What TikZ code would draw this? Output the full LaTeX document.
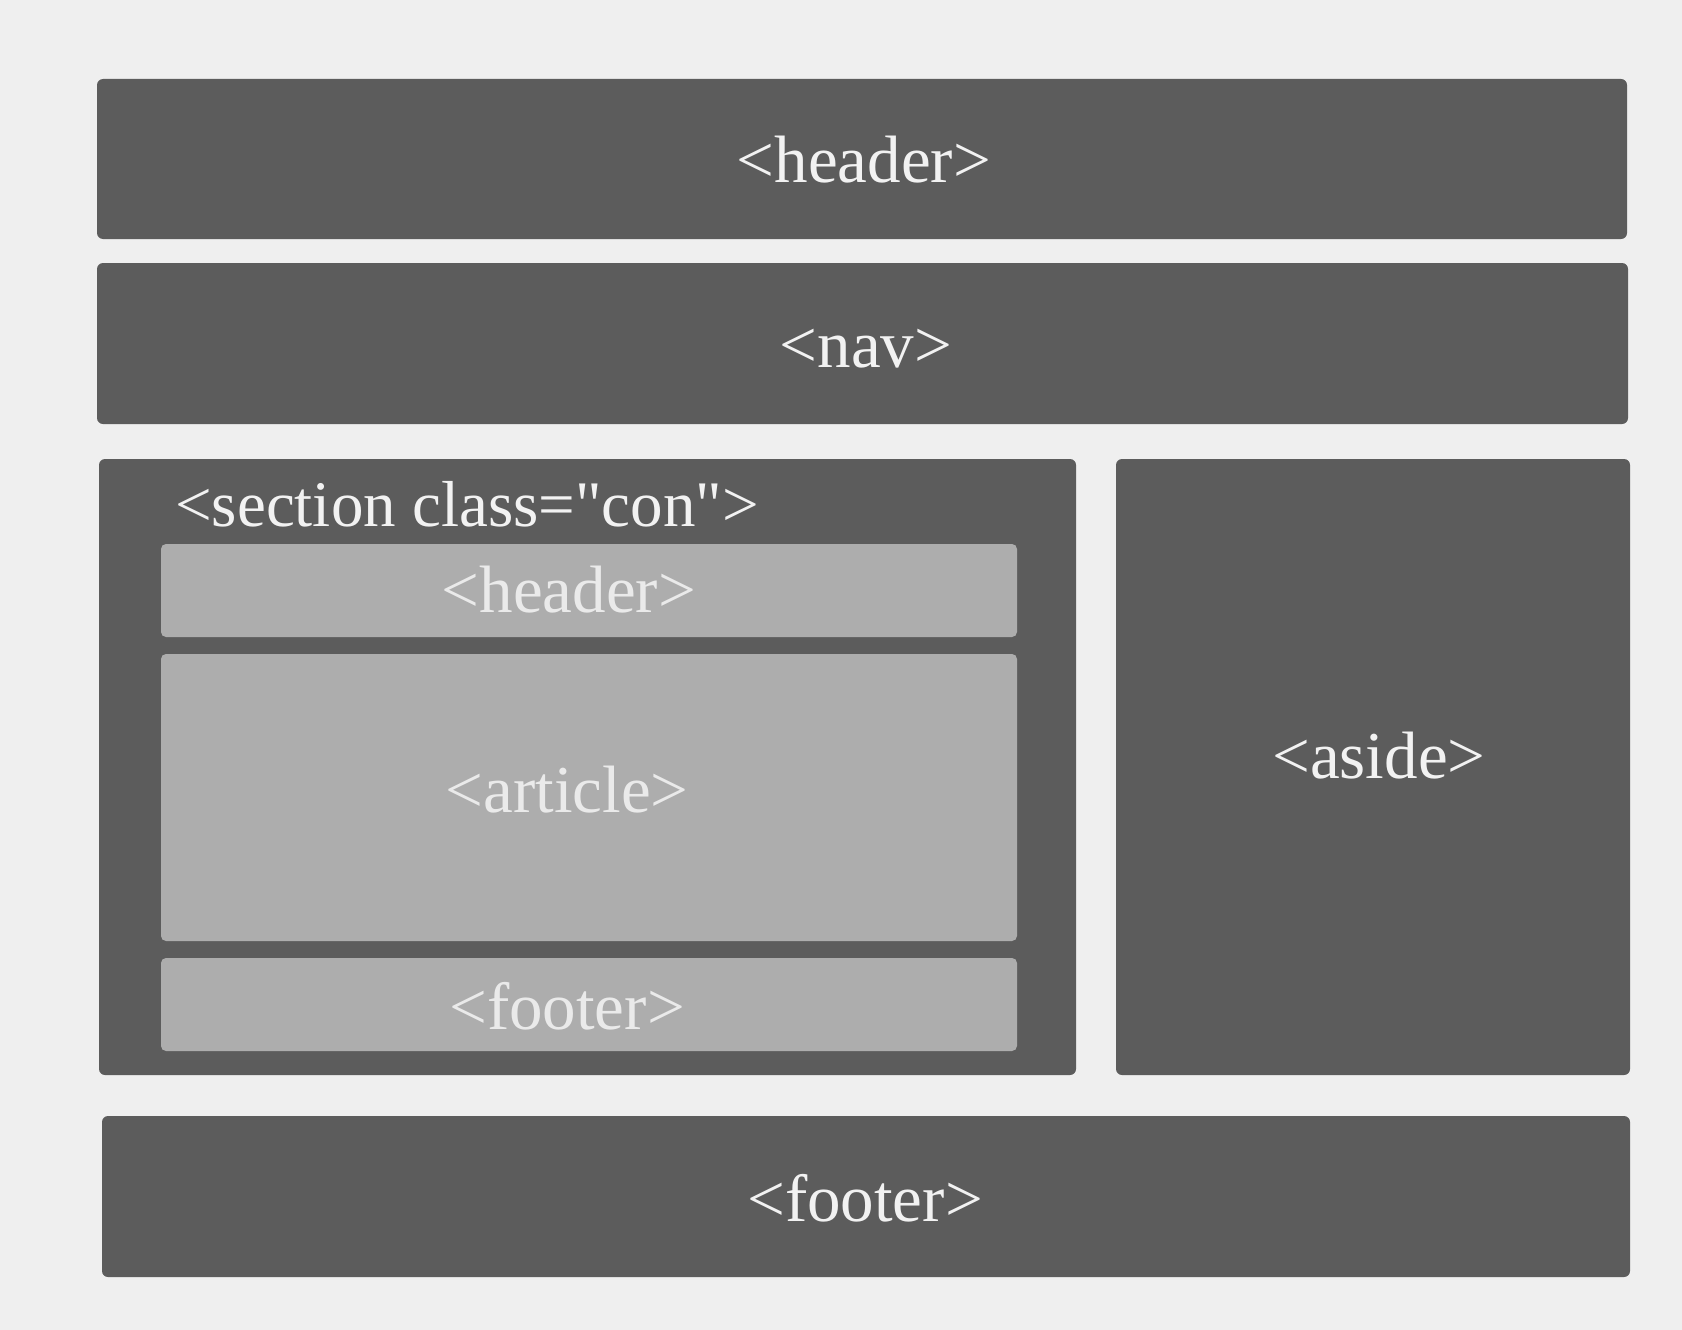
\documentclass[tikz,border=0pt]{standalone}
\usepackage{fontspec}
\setmainfont{Liberation Serif}
\newfontfamily\plainserif{Liberation Serif}[Ligatures=TeXOff]
\definecolor{bgc}{HTML}{EFEFEF}
\definecolor{darkc}{HTML}{5C5C5C}
\definecolor{lightc}{HTML}{ADADAD}
\definecolor{txtc}{HTML}{F2F2F2}
\definecolor{txtl}{HTML}{EAEAEA}
\tikzset{
  darkbox/.style={fill=darkc, rounded corners=6pt, draw=none},
  lightbox/.style={fill=lightc, rounded corners=5pt, draw=none},
  lbl/.style={text=txtc, font=\fontsize{67}{74}\selectfont, inner sep=0pt},
  lbll/.style={text=txtl, font=\fontsize{67}{74}\selectfont, inner sep=0pt},
  lbls/.style={text=txtc, font=\plainserif\fontsize{65}{72}\selectfont, inner sep=0pt}
}
\begin{document}
\begin{tikzpicture}[x=1pt,y=-1pt]
\useasboundingbox (0,0) rectangle (1682,1330);
\fill[bgc] (0,0) rectangle (1682,1330);
% outer boxes
\path[darkbox] (97,79) rectangle (1627,239);
\path[darkbox] (97,263) rectangle (1628,424);
\path[darkbox] (99,459) rectangle (1076,1075);
\path[darkbox] (1116,459) rectangle (1630,1075);
\path[darkbox] (102,1116) rectangle (1630,1277);
% inner boxes
\path[lightbox] (161,544) rectangle (1017,637);
\path[lightbox] (161,654) rectangle (1017,941);
\path[lightbox] (161,958) rectangle (1017,1051);
% labels
\node[lbl] (header) at (864,160) {<header>};
\node[lbl] (nav) at (866,349) {<nav>};
\node[lbls, anchor=west] (section) at (175,504) {<section class="con">};
\node[lbll] (iheader) at (569,590) {<header>};
\node[lbll] (article) at (567,790) {<article>};
\node[lbll] (ifooter) at (567,1006) {<footer>};
\node[lbl] (aside) at (1379,756) {<aside>};
\node[lbl] (footer) at (865,1198) {<footer>};
\end{tikzpicture}
\end{document}
